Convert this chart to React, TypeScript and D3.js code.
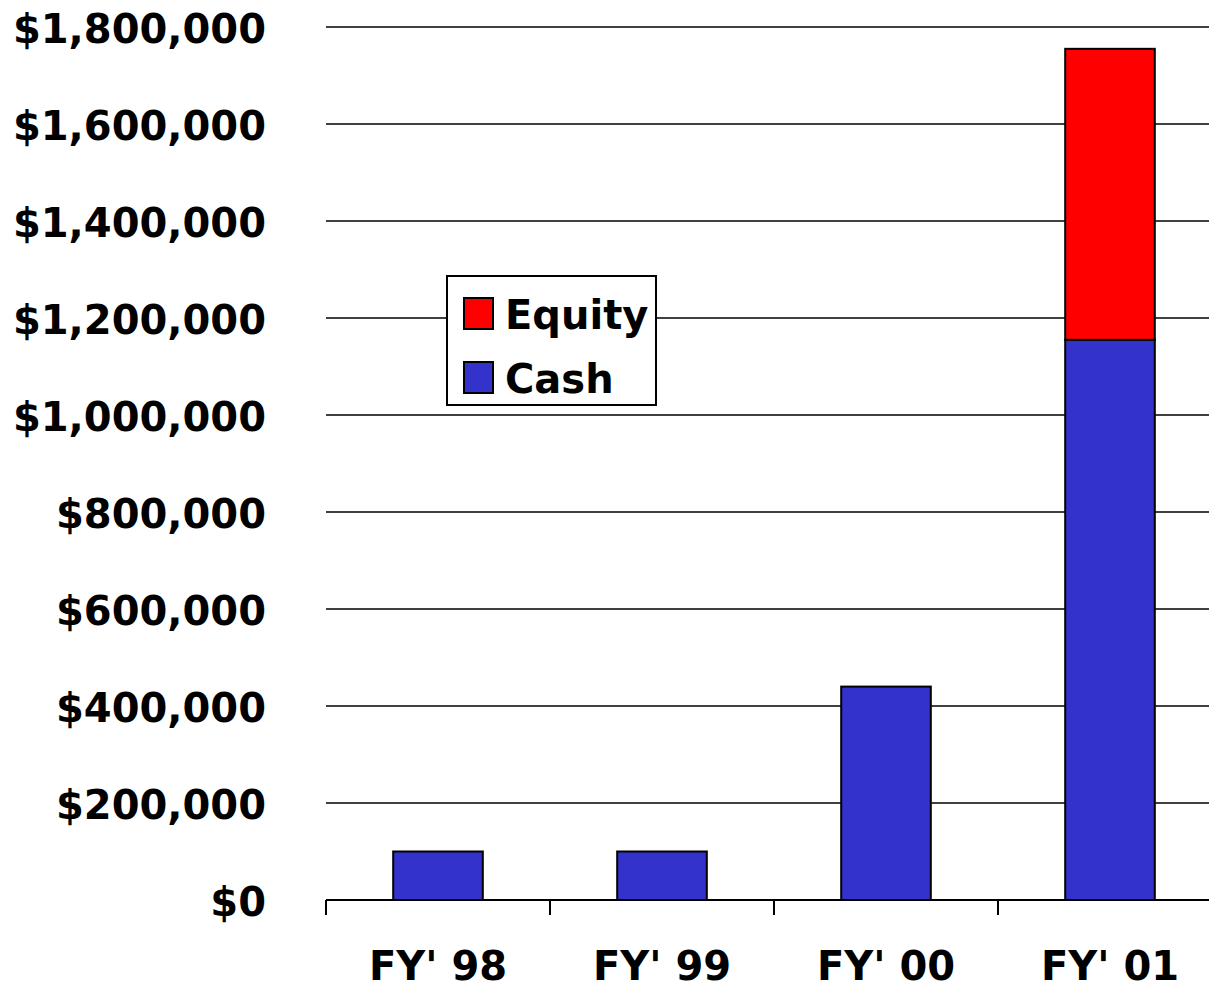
import React from "react";
import * as d3 from "d3";

const categories = ["FY' 98", "FY' 99", "FY' 00", "FY' 01"];
const cashValues = [100000, 100000, 440000, 1155000];
const equityValues = [0, 0, 0, 600000];
const yTicks = [0, 200000, 400000, 600000, 800000, 1000000, 1200000, 1400000, 1600000, 1800000];
const seriesNames = ["Cash", "Equity"];
const seriesColors = ["#3333CC", "#FF0000"];

const W = 1209;
const H = 990;
const FONT = "'DejaVu Sans', Verdana, sans-serif";
const FS = 40;

export default function App() {
  const x = d3.scaleBand<string>().domain(categories).range([326, 1222]).paddingInner(0).paddingOuter(0);
  const y = d3.scaleLinear().domain([0, 1800000]).range([900, 27]);
  const fmt = (v: number) => "$" + d3.format(",")(v);

  const rows = categories.map((c, i) => ({ cat: c, Cash: cashValues[i], Equity: equityValues[i] }));
  const stacked = d3.stack<any>().keys(seriesNames)(rows);
  const barW = x.bandwidth() * 0.4;

  return (
    <svg width={W} height={H} style={{ position: "absolute", left: 0, top: 0, background: "#fff" }}>
      <rect x={0} y={0} width={W} height={H} fill="#fff" />
      {yTicks.filter((t) => t > 0).map((t) => (
        <line key={t} x1={326} x2={W} y1={y(t)} y2={y(t)} stroke="#000" strokeWidth={1.5} />
      ))}
      {yTicks.map((t) => (
        <text key={"l" + t} x={266} y={y(t) + 16} textAnchor="end" fontFamily={FONT} fontWeight="bold" fontSize={FS} fill="#000">
          {fmt(t)}
        </text>
      ))}
      {stacked.map((s, si) =>
        s.map((d, i) => {
          const v = d[1] - d[0];
          if (v <= 0) return null;
          const cx = (x(categories[i]) as number) + x.bandwidth() / 2;
          return (
            <rect
              key={si + "-" + i}
              x={cx - barW / 2}
              y={y(d[1])}
              width={barW}
              height={y(d[0]) - y(d[1])}
              fill={seriesColors[si]}
              stroke="#000"
              strokeWidth={2}
            />
          );
        })
      )}
      <line x1={326} x2={W} y1={y(0)} y2={y(0)} stroke="#000" strokeWidth={2} />
      {categories.map((c) => (
        <line key={"t" + c} x1={x(c) as number} x2={x(c) as number} y1={y(0)} y2={y(0) + 15} stroke="#000" strokeWidth={2} />
      ))}
      {categories.map((c) => (
        <text key={"x" + c} x={(x(c) as number) + x.bandwidth() / 2} y={980} textAnchor="middle" fontFamily={FONT} fontWeight="bold" fontSize={FS} fill="#000">
          {c}
        </text>
      ))}
      <g>
        <rect x={447} y={276} width={209} height={129} fill="#fff" stroke="#000" strokeWidth={2} />
        {["Equity", "Cash"].map((n, i) => {
          const si = seriesNames.indexOf(n);
          const yy = 298 + i * 64;
          return (
            <g key={n}>
              <rect x={464} y={yy} width={29} height={31} fill={seriesColors[si]} stroke="#000" strokeWidth={2} />
              <text x={505} y={yy + 31} fontFamily={FONT} fontWeight="bold" fontSize={FS} fill="#000">
                {n}
              </text>
            </g>
          );
        })}
      </g>
    </svg>
  );
}
